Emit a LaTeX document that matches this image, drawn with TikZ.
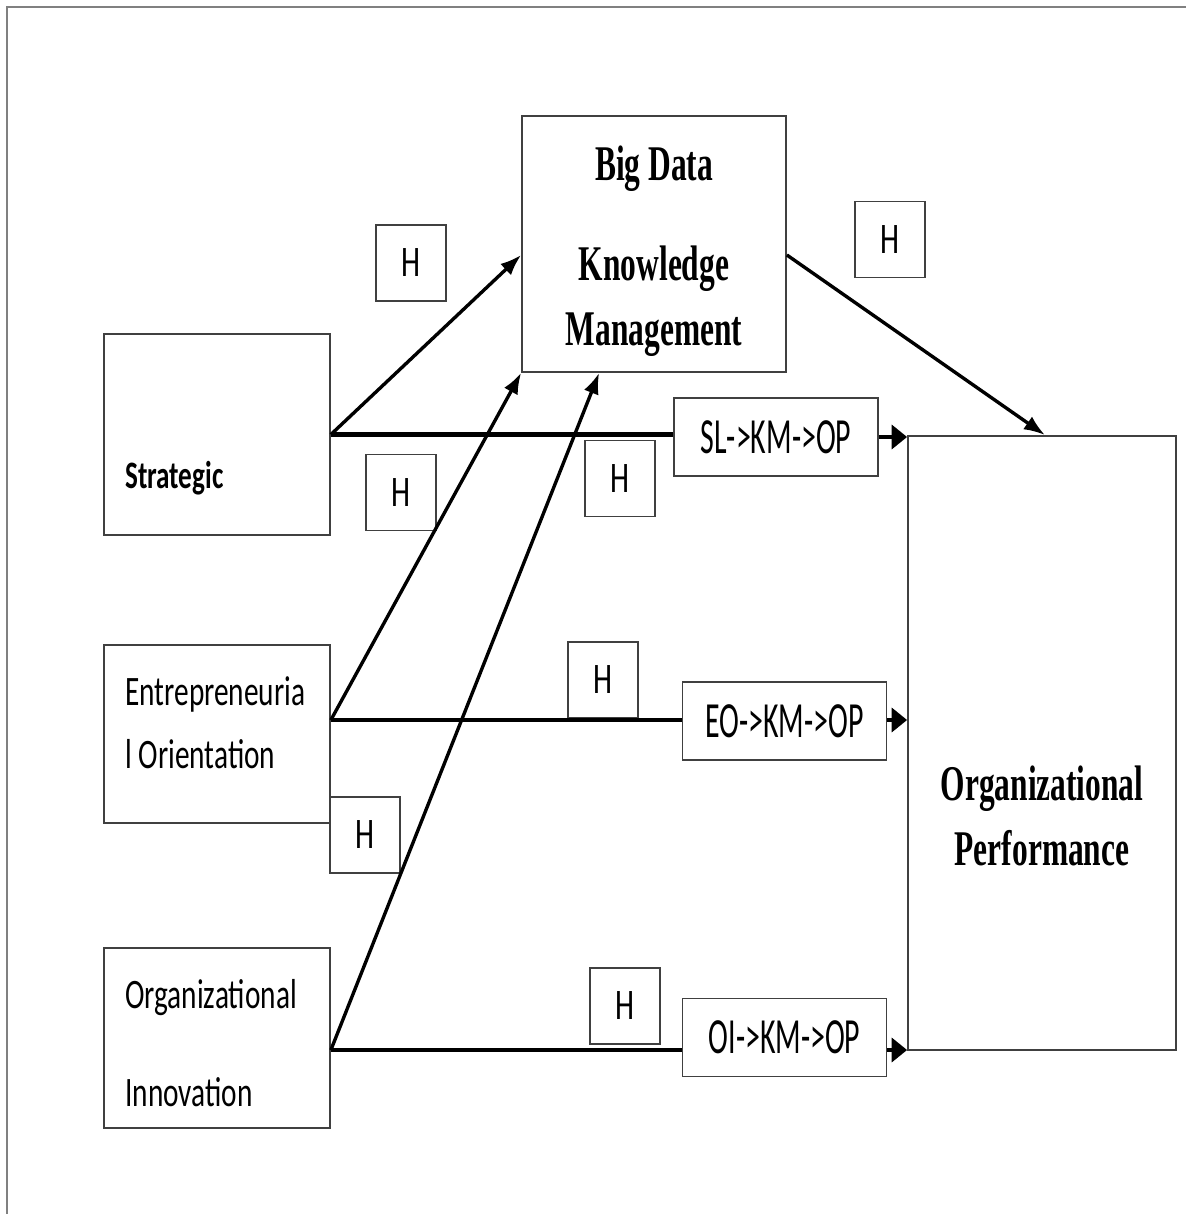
\documentclass[tikz,border=0pt]{standalone}
\usepackage{fontspec}
\usetikzlibrary{arrows.meta,calc}
\newfontfamily\narrowsans[FakeStretch=0.7]{Carlito}
\newfontfamily\pathsans[FakeStretch=0.59]{Carlito}
\newfontfamily\narrowserif[FakeStretch=0.63]{Liberation Serif}
\begin{document}
\begin{tikzpicture}[x=0.025cm, y=-0.025cm,
    box/.style={draw=black!75, line width=1.2pt, inner sep=0pt},
    hyp/.style={box, minimum width=1.75cm, minimum height=1.9cm, font=\narrowsans\fontsize{31pt}{36pt}\selectfont},
    med/.style={box, minimum width=5.1cm, minimum height=1.95cm, font=\pathsans\fontsize{36pt}{40pt}\selectfont},
    lbl/.style={font=\narrowsans\fontsize{29.8pt}{1.575cm}\selectfont, align=left, anchor=west, inner sep=0pt},
    ttl/.style={font=\narrowserif\bfseries\fontsize{35.5pt}{1.625cm}\selectfont, align=center, inner sep=0pt},
    arr/.style={line width=2.4pt, -{Latex[length=15pt,width=11pt]}},
    flow/.style={line width=3pt},
    tip/.style={flow, -{Triangle[length=11pt,width=17pt]}}]
    \useasboundingbox (0,0) rectangle (1186,1214);
    \draw[gray, line width=0.8pt] (7,1214) -- (7,7) -- (1186,7);
    \node[box, minimum width=6.6cm, minimum height=6.4cm] (km) at (654,244) {};
    \node[ttl] (kmtxt) at (654,251) {Big Data\\[0.875cm]Knowledge\\Management};
    \node[box, minimum width=5.65cm, minimum height=5.025cm] (sl) at (217,434.5) {};
    \node[lbl, anchor=base west, font=\narrowsans\bfseries\fontsize{27.6pt}{32pt}\selectfont] (sltxt) at (125,488) {Strategic};
    \node[box, minimum width=5.65cm, minimum height=4.45cm] (eo) at (217,734) {};
    \node[lbl] (eotxt) at (125,723) {Entrepreneuria\\l Orientation};
    \node[box, minimum width=5.65cm, minimum height=4.5cm] (oi) at (217,1038) {};
    \node[lbl] (oitxt) at (125,1043) {Organizational\\[0.875cm]Innovation};
    \node[box, minimum width=6.7cm, minimum height=15.35cm] (op) at (1042,743) {};
    \node[ttl] (optxt) at (1042,816) {Organizational\\Performance};
    \node[med] (slp) at (776,437) {SL->KM->OP};
    \node[med] (eop) at (784.5,721) {EO->KM->OP};
    \node[med] (oip) at (784.5,1037.5) {OI->KM->OP};
    \node[hyp] (h1) at (411,263) {H};
    \node[hyp] (h2) at (890,239.5) {H};
    \node[hyp] (h3) at (401,492.5) {H};
    \node[hyp] (h4) at (620,478.5) {H};
    \node[hyp] (h5) at (603,680) {H};
    \node[hyp] (h6) at (365,835) {H};
    \node[hyp] (h7) at (625,1006) {H};
    \coordinate (eoout) at ($(eo.east)+(0,-14)$);
    \coordinate (oiout) at ($(oi.east)+(0,12)$);
    \draw[arr] (sl.east) -- ($(km.west)+(0,11)$);
    \draw[arr] (eoout) -- (km.south west);
    \draw[arr] (oiout) -- ($(km.south west)+(78,0)$);
    \draw[arr] ($(km.east)+(0,11)$) -- ($(op.north)+(3,0)$);
    \draw[flow] (sl.east) -- (sl.east -| slp.west);
    \draw[tip] (slp.east) -- (slp.east -| op.west);
    \draw[flow] (eoout) -- (eoout -| eop.west);
    \draw[tip] (eop.east |- eoout) -- (eoout -| op.west);
    \draw[flow] (oiout) -- (oiout -| oip.west);
    \draw[tip] (oip.east |- oiout) -- (oiout -| op.west);
\end{tikzpicture}
\end{document}
